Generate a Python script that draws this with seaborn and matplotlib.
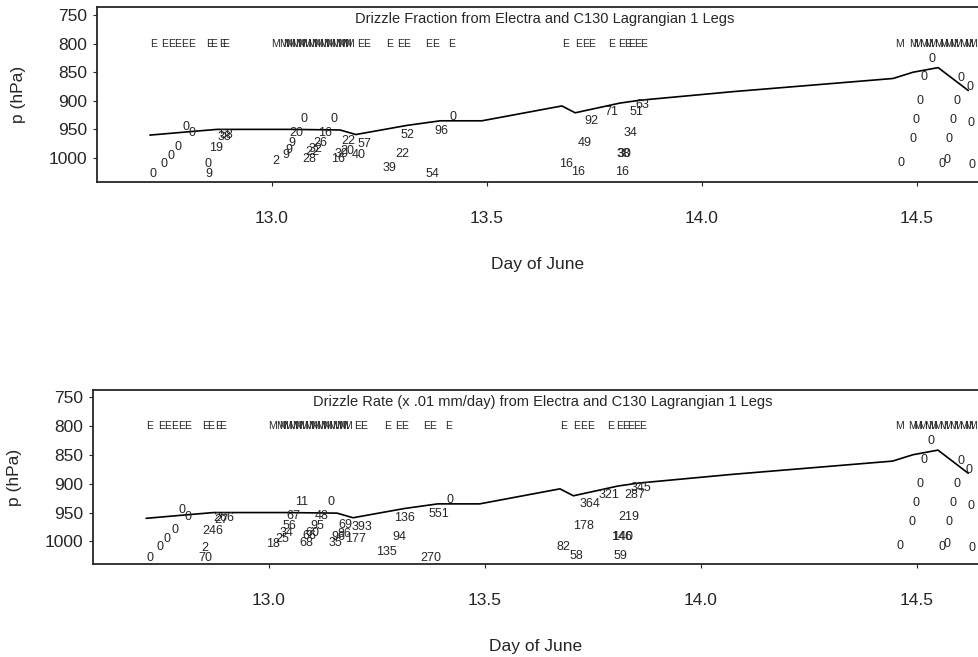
"""
Drizzle fraction / drizzle rate along Lagrangian 1 legs (Electra + C130).
Two stacked panels: pressure vs day of June, values written as text at
each leg position, leg markers (E / M) along the 800 hPa row.
"""
import numpy as np
import pandas as pd
import matplotlib
matplotlib.use('Agg')
import matplotlib.pyplot as plt
import seaborn as sns

# ── DATA ───────────────────────────────────────────────────────
# inversion / cloud-top pressure trace (same in both panels)
line_day = [12.716, 12.793, 12.872, 13.042, 13.158, 13.195, 13.314, 13.391, 13.488,
            13.674, 13.705, 13.809, 13.856, 14.072, 14.444, 14.491, 14.549, 14.619]
line_p = [960, 955, 950, 950, 951, 959, 943, 935, 935,
          909, 921, 904, 899, 884, 861, 850, 842, 882]

# leg sample positions
pt_day = [12.724, 12.749, 12.765, 12.782, 12.799, 12.813, 12.870, 12.889, 12.895, 12.852, 12.852,
          13.009, 13.032, 13.040, 13.047, 13.057, 13.075, 13.113, 13.100, 13.093, 13.086, 13.123,
          13.143, 13.177, 13.174, 13.162, 13.154, 13.216, 13.201, 13.315, 13.302, 13.273, 13.393,
          13.374, 13.420,
          13.743, 13.788, 13.848, 13.862, 13.834, 13.728, 13.817, 13.820, 13.683, 13.712, 13.813,
          14.534, 14.516, 14.602, 14.622, 14.507, 14.592, 14.498, 14.584, 14.625, 14.490, 14.575,
          14.462, 14.559, 14.569, 14.627]
pt_p = [1028, 1010, 996, 980, 945, 957, 982, 963, 960, 1011, 1028,
        1005, 995, 986, 973, 956, 932, 974, 985, 990, 1002, 956,
        932, 971, 987, 993, 1002, 975, 995, 960, 993, 1018, 952,
        1028, 929,
        936, 919, 919, 907, 957, 973, 993, 993, 1010, 1025, 1025,
        827, 859, 860, 876, 900, 900, 934, 934, 939, 966, 966,
        1008, 1010, 1004, 1012]

frac_labels = ['0', '0', '0', '0', '0', '0', '19', '38', '58', '0', '9',
               '2', '9', '9', '9', '20', '0', '26', '32', '22', '28', '16',
               '0', '22', '20', '30', '16', '57', '40', '52', '22', '39', '96',
               '54', '0',
               '92', '71', '51', '63', '34', '49', '38', '30', '16', '16', '16',
               '0', '0', '0', '0', '0', '0', '0', '0', '0', '0', '0',
               '0', '0', '0', '0']
rate_labels = ['0', '0', '0', '0', '0', '0', '246', '27', '266', '2', '70',
               '18', '25', '34', '56', '67', '11', '95', '60', '66', '68', '48',
               '0', '69', '86', '96', '35', '393', '177', '136', '94', '135', '551',
               '270', '0',
               '364', '321', '287', '345', '219', '178', '146', '140', '82', '58', '59',
               '0', '0', '0', '0', '0', '0', '0', '0', '0', '0', '0',
               '0', '0', '0', '0']

# aircraft leg markers (E = Electra, M = C130)
e_day = [12.724, 12.751, 12.766, 12.781, 12.797, 12.812, 12.854, 12.865, 12.884, 12.893,
         13.205, 13.219, 13.274, 13.300, 13.314, 13.365, 13.380, 13.417,
         13.683, 13.712, 13.728, 13.744, 13.790, 13.812, 13.826, 13.837, 13.851, 13.865]
m_day = [13.009, 13.026, 13.035, 13.044, 13.054, 13.063, 13.072, 13.081, 13.091, 13.100,
         13.109, 13.119, 13.128, 13.137, 13.147, 13.156, 13.165, 13.174, 13.181,
         14.459, 14.491, 14.502, 14.514, 14.526, 14.537, 14.549, 14.561, 14.572, 14.584,
         14.595, 14.607, 14.619, 14.628]
leg_p = 800

x_ticks = [13.0, 13.5, 14.0, 14.5]
y_ticks = [750, 800, 850, 900, 950, 1000]

titles = ['Drizzle Fraction from Electra and C130 Lagrangian 1 Legs',
          'Drizzle Rate (x .01 mm/day) from Electra and C130 Lagrangian 1 Legs']

# ── STYLE ──────────────────────────────────────────────────────
sns.set_style('ticks')
plt.rcParams['font.family'] = ['Liberation Sans', 'DejaVu Sans']
plt.rcParams['axes.linewidth'] = 1.3

fig = plt.figure(figsize=(9.79, 6.57), dpi=100)
ax_top = fig.add_axes([97 / 979, 1 - 182 / 657, 882 / 979, 175 / 657])
ax_bot = fig.add_axes([93 / 979, 1 - 564 / 657, 886 / 979, 174 / 657])

line_df = pd.DataFrame({'day': line_day, 'p': line_p})


def draw_panel(ax, labels, title, ylim):
    sns.lineplot(data=line_df, x='day', y='p', ax=ax, color='black', lw=1.2,
                 sort=False, estimator=None)
    for d, p, s in zip(pt_day, pt_p, labels):
        ax.text(d, p, s, ha='center', va='center', fontsize=9)
    for d in e_day:
        ax.text(d, leg_p, 'E', ha='center', va='center', fontsize=7.5)
    for d in m_day:
        ax.text(d, leg_p, 'M', ha='center', va='center', fontsize=7.5)
    ax.text(0.508, 0.93, title, transform=ax.transAxes, ha='center', va='center',
            fontsize=10.5)
    ax.set_xlim(12.593, 14.644)
    ax.set_ylim(*ylim)
    ax.set_xticks(x_ticks)
    ax.set_xticklabels([f'{t:.1f}' for t in x_ticks])
    ax.set_yticks(y_ticks)
    ax.tick_params(axis='x', labelsize=12.5, length=3, pad=18)
    ax.tick_params(axis='y', labelsize=12.5, length=3, pad=4)
    ax.set_xlabel('Day of June', fontsize=12.5, labelpad=22)
    ax.set_ylabel('p (hPa)', fontsize=12.5, labelpad=16)
    ax.spines['right'].set_visible(False)


draw_panel(ax_top, frac_labels, titles[0], (1042, 736))
draw_panel(ax_bot, rate_labels, titles[1], (1039, 738))

fig.savefig('out.png', dpi=100)
